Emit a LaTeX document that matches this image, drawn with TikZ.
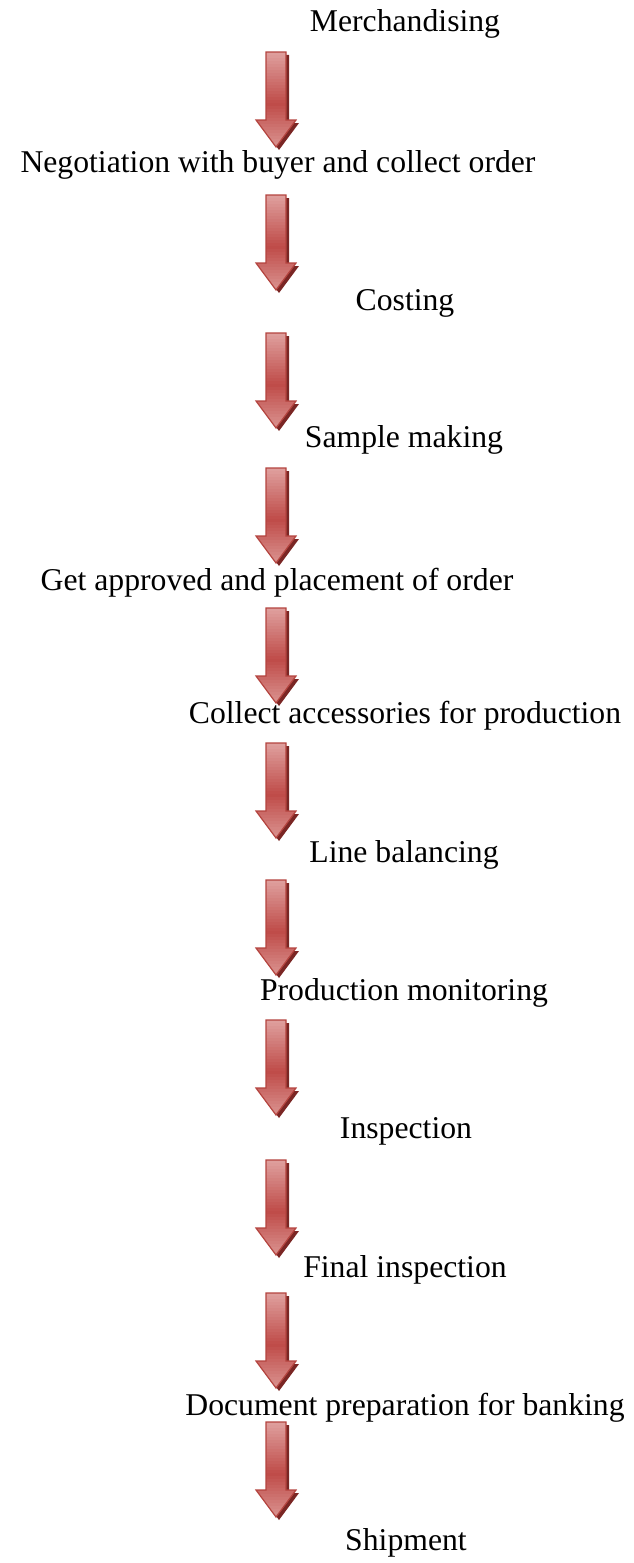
\documentclass[tikz,border=0pt]{standalone}
\usepackage{fontspec}
\setmainfont{Liberation Serif}
\definecolor{arrowlight}{HTML}{DE9E9C}
\definecolor{arrowmid}{HTML}{BF4B48}
\definecolor{arrowedge}{HTML}{B4443F}
\definecolor{arrowshade}{HTML}{7A2624}
\tikzset{
  x=1pt, y=-1pt,
  steplabel/.style={anchor=base, inner sep=0pt, font=\fontsize{31.7}{38}\selectfont},
  arrowback/.style={fill=arrowshade},
  arrowrim/.style={draw=arrowedge, line width=1.2pt, line join=miter},
  pics/flowarrow/.style={code={
    % offset dark copy behind the arrow
    \fill[arrowback] (-7,3) -- (13,3) -- (13,71) -- (23,71) -- (3,98) -- (-17,71) -- (-7,71) -- cycle;
    % body: light at both ends, dark red across the middle
    \begin{scope}
      \clip (-10,0) -- (10,0) -- (10,68) -- (20,68) -- (0,95) -- (-20,68) -- (-10,68) -- cycle;
      \foreach \i in {0,...,31} {
        \pgfmathsetmacro\mix{max(0,100*(1-abs(\i*3+1.5-52)/50))}
        \fill[arrowmid!\mix!arrowlight] (-22,\i*3) rectangle (22,\i*3+3.4);
      }
    \end{scope}
    \draw[arrowrim] (-10,0) -- (10,0) -- (10,68) -- (20,68) -- (0,95) -- (-20,68) -- (-10,68) -- cycle;
  }}
}
\begin{document}
\begin{tikzpicture}
\useasboundingbox (0,0) rectangle (633,1563);
% process steps
\node[steplabel] (merch)   at (405,32)   {Merchandising};
\node[steplabel] (nego)    at (278,172)  {Negotiation with buyer and collect order};
\node[steplabel] (cost)    at (405,310)  {Costing};
\node[steplabel] (sample)  at (404,447)  {Sample making};
\node[steplabel] (approve) at (277,590)  {Get approved and placement of order};
\node[steplabel] (access)  at (405,723)  {Collect accessories for production};
\node[steplabel] (line)    at (404,862)  {Line balancing};
\node[steplabel] (monitor) at (404,1000) {Production monitoring};
\node[steplabel] (insp)    at (406,1138) {Inspection};
\node[steplabel] (final)   at (405,1277) {Final inspection};
\node[steplabel] (docs)    at (405,1415) {Document preparation for banking};
\node[steplabel] (ship)    at (406,1550) {Shipment};
% block arrows between steps
\foreach \top in {52,195,333,468,608,743,880,1020,1160,1293,1422}
  \pic at (276,\top) {flowarrow};
\end{tikzpicture}
\end{document}
